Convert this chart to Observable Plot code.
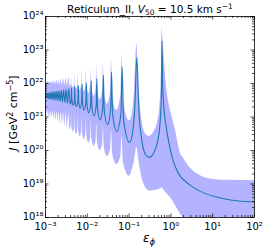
<!DOCTYPE html>
<html><head><meta charset="utf-8">
<script src="https://cdn.jsdelivr.net/npm/d3@7"></script>
<script src="https://cdn.jsdelivr.net/npm/@observablehq/plot@0.6"></script>
<style>body{margin:0;background:#fff}#chart svg{display:block}</style>
</head><body><div id="chart"></div>
<script>
// Resonance peaks (n = 1 .. 24); J values as log10
const peakEps  = [0.61,0.153,0.068,0.038,0.0243,0.0169,0.0124,0.0095,0.0075,0.0061,0.005,0.0042,0.0036,0.0031,0.0027,0.00238,0.0021,0.00188,0.00168,0.00152,0.00138,0.00126,0.00115,0.00106];
const peakLine = [23.27,22.78,22.5,22.35,22.25,22.15,22.08,22.02,21.98,21.94,21.9,21.87,21.85,21.83,21.81,21.79,21.78,21.77,21.76,21.75,21.74,21.73,21.72,21.71];
const peakHi   = [23.67,23.17,22.85,22.7,22.6,22.52,22.45,22.4,22.35,22.3,22.26,22.22,22.19,22.16,22.14,22.12,22.1,22.09,22.08,22.07,22.06,22.05,22.05,22.05];
const peakLo   = [18.9,20.1,20.4,20.6,20.72,20.82,20.9,20.95,21.0,21.03,21.06,21.08,21.1,21.12,21.13,21.14,21.15,21.16,21.16,21.17,21.17,21.18,21.18,21.18];
// Troughs between peak n and n+1
const troughEps  = [0.30,0.102,0.0508,0.0304,0.0203,0.0145,0.0109,0.0084,0.00675,0.0055,0.0046,0.0039,0.00334,0.0029,0.00254,0.00224,0.00199,0.00178,0.0016,0.00145,0.00132,0.0012,0.0011];
const troughLine = [19.79,20.24,20.57,20.77,20.91,21.03,21.12,21.2,21.26,21.31,21.35,21.38,21.41,21.43,21.45,21.47,21.49,21.5,21.51,21.52,21.53,21.54,21.55];
const troughHi   = [20.42,20.89,21.2,21.38,21.52,21.62,21.7,21.76,21.8,21.84,21.87,21.9,21.92,21.94,21.95,21.96,21.97,21.98,21.98,21.99,21.99,22.0,22.0];
const troughLo   = [18.79,19.23,19.58,19.82,20.0,20.12,20.22,20.32,20.4,20.48,20.55,20.62,20.68,20.73,20.78,20.82,20.86,20.9,20.93,20.96,20.98,21.0,21.02];
// Flanks of the peaks n = 3 .. 12 (left and right of each spike)
const flankEps  = [0.0643,0.0738,0.0364,0.0403,0.02344,0.0254,0.0164,0.01754,0.01208,0.0128,0.00927,0.00977,0.00734,0.00767,0.00597,0.00621,0.00492,0.00509,0.00414,0.00426];
const flankLine = [21.15,20.92,21.24,21.1,21.31,21.21,21.37,21.28,21.41,21.35,21.45,21.39,21.48,21.43,21.5,21.46,21.52,21.49,21.53,21.51];
const flankHi   = [21.7,21.48,21.78,21.65,21.84,21.75,21.89,21.82,21.93,21.87,21.95,21.91,21.97,21.94,21.98,21.95,21.99,21.97,22.0,21.98];
const flankLo   = [19.86,19.61,20.07,19.9,20.22,20.1,20.33,20.25,20.42,20.35,20.51,20.44,20.58,20.52,20.65,20.59,20.7,20.65,20.76,20.71];
// Left edge, flanks of peaks 1 and 2, and the tail beyond the last peak
const extraEps  = [0.001,0.118,0.137,0.171,0.206,0.247,0.39,0.47,0.542,0.595,0.64,0.70,0.76,0.89,1.07,1.29,1.7,2.04,2.94,5.1,11.7,26.7,100];
const extraLine = [21.56,20.45,21.3,21.21,20.23,19.88,19.93,20.22,20.72,21.71,21.9,21.1,20.75,20.25,19.8,19.5,19.22,19.12,18.96,18.78,18.62,18.52,18.46];
const extraHi   = [22.02,21.05,21.9,21.95,20.85,20.5,20.55,20.8,21.3,22.5,23.4,22.7,22.1,21.45,21.0,20.6,19.9,19.75,19.47,19.25,19.13,19.11,19.1];
const extraLo   = [21.03,19.4,19.75,19.7,19.15,18.9,18.8,18.82,18.85,18.88,18.86,18.8,18.74,18.65,18.52,18.35,18.1,17.98,17.8,17.6,17.45,17.4,17.35];

const xMajor = [1e-3,1e-2,1e-1,1,10,100];
const yMajor = [1e18,1e19,1e20,1e21,1e22,1e23,1e24];
const minorMult = [2,3,4,5,6,7,8,9];

const pts = [];
const add = (E,L,Hh,Lo) => E.forEach((e,i)=>pts.push({eps:e, J:10**L[i], hi:10**Hh[i], lo:10**Lo[i]}));
add(peakEps,peakLine,peakHi,peakLo);
add(troughEps,troughLine,troughHi,troughLo);
add(flankEps,flankLine,flankHi,flankLo);
add(extraEps,extraLine,extraHi,extraLo);
pts.sort((a,b)=>a.eps-b.eps);

const W=267,H=250,mL=45,mR=13,mT=16,mB=33;
const iH=H-mT-mB, iW=W-mL-mR;
const xMinor = xMajor.slice(0,-1).flatMap(d=>minorMult.map(k=>k*d));
const yMinor = yMajor.slice(0,-1).flatMap(d=>minorMult.map(k=>k*d));
const supMap = {"-":"⁻","0":"⁰","1":"¹","2":"²","3":"³","4":"⁴","5":"⁵","6":"⁶","7":"⁷","8":"⁸","9":"⁹"};
const fmt = d => "10" + String(Math.round(Math.log10(d))).split("").map(c=>supMap[c]).join("");
const tk = {stroke:"black", strokeWidth:0.7};

const svg = Plot.plot({
  width:W, height:H, marginLeft:mL, marginRight:mR, marginTop:mT, marginBottom:mB,
  style:{fontFamily:"DejaVu Sans", fontSize:"10px", background:"white", color:"black"},
  x:{type:"log", domain:[1e-3,1e2]},
  y:{type:"log", domain:[1e18,1e24]},
  marks:[
    Plot.areaY(pts,{x:"eps", y1:"lo", y2:"hi", fill:"#b3b3ff", curve:"monotone-x", clip:true}),
    Plot.line(pts,{x:"eps", y:"J", stroke:"#1f77b4", strokeWidth:1.1, curve:"monotone-x", clip:true}),
    Plot.tickX(xMajor,{x:d=>d, insetTop:iH-3.5, ...tk}),
    Plot.tickX(xMajor,{x:d=>d, insetBottom:iH-3.5, ...tk}),
    Plot.tickX(xMinor,{x:d=>d, insetTop:iH-2, ...tk}),
    Plot.tickX(xMinor,{x:d=>d, insetBottom:iH-2, ...tk}),
    Plot.tickY(yMajor,{y:d=>d, insetRight:iW-3.5, ...tk}),
    Plot.tickY(yMajor,{y:d=>d, insetLeft:iW-3.5, ...tk}),
    Plot.tickY(yMinor,{y:d=>d, insetRight:iW-2, ...tk}),
    Plot.tickY(yMinor,{y:d=>d, insetLeft:iW-2, ...tk}),
    Plot.axisX(xMajor,{tickSize:0, tickPadding:5, tickFormat:fmt, label:null, fontSize:10}),
    Plot.axisY(yMajor,{tickSize:0, tickPadding:2, tickFormat:fmt, label:null, fontSize:10, dy:-0.5}),
    Plot.frame({stroke:"black", strokeWidth:0.8})
  ]
});

const s = d3.select(svg);
const title = s.append("text").attr("x",150).attr("y",12.5).attr("text-anchor","middle")
  .attr("font-size",10.5).attr("fill","black");
title.append("tspan").text("Reticulum_II, ");
title.append("tspan").attr("font-style","italic").text("V");
title.append("tspan").attr("font-size",7.5).attr("dy",2.5).text("50");
title.append("tspan").attr("dy",-2.5).text(" = 10.5 km s");
title.append("tspan").attr("font-size",7.5).attr("dy",-4).text("−1");

const yl = s.append("text").attr("transform","translate(17,113) rotate(-90)").attr("text-anchor","middle")
  .attr("font-size",11).attr("fill","black");
yl.append("tspan").attr("font-style","italic").text("J");
yl.append("tspan").text(" [GeV");
yl.append("tspan").attr("font-size",8).attr("dy",-4).text("2");
yl.append("tspan").attr("dy",4).text(" cm");
yl.append("tspan").attr("font-size",8).attr("dy",-4).text("−5");
yl.append("tspan").attr("dy",4).text("]");

const xl = s.append("text").attr("x",149).attr("y",242).attr("text-anchor","middle")
  .attr("font-size",12).attr("fill","black");
xl.append("tspan").attr("font-style","italic").text("ε");
xl.append("tspan").attr("font-style","italic").attr("font-size",8.5).attr("dy",3).text("ϕ");

document.getElementById("chart").appendChild(svg);
</script>
</body></html>
